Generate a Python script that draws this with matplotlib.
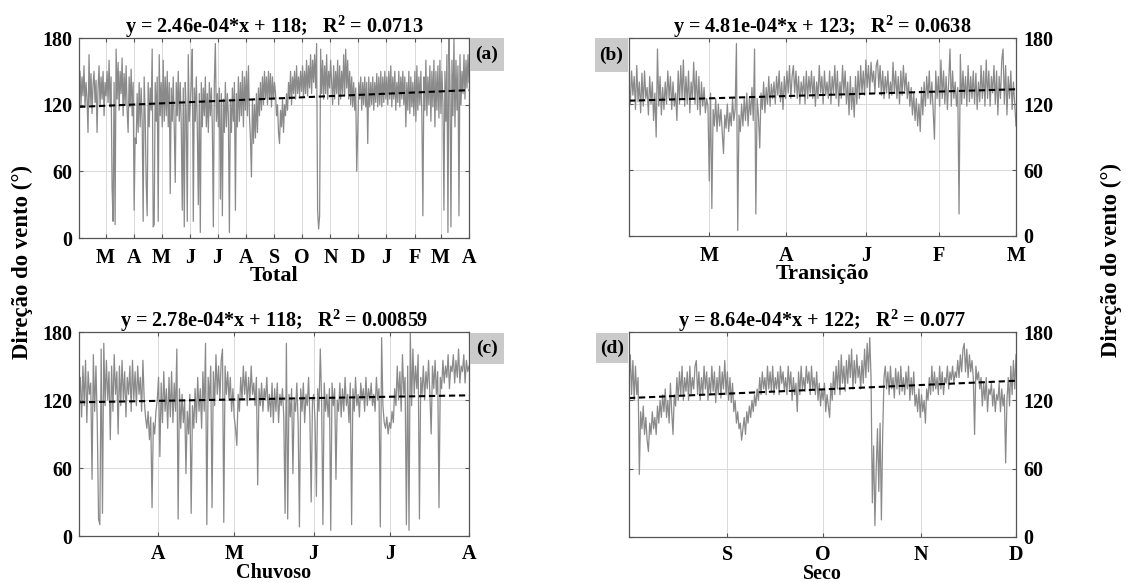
import numpy as np
import pandas as pd
import matplotlib
matplotlib.use("Agg")
import matplotlib.pyplot as plt
from matplotlib.patches import Rectangle

plt.rcParams["font.family"] = ["Liberation Serif", "DejaVu Serif"]
plt.rcParams["font.weight"] = "bold"
plt.rcParams["mathtext.fontset"] = "custom"
plt.rcParams["mathtext.rm"] = "Liberation Serif:bold"
plt.rcParams["mathtext.it"] = "Liberation Serif:bold"
plt.rcParams["mathtext.bf"] = "Liberation Serif:bold"

# Direção do vento (graus) (amostras igualmente espaçadas)
total = [135, 150, 120, 145, 128, 155, 118, 140, 125, 95, 165, 120, 148, 112, 138, 150, 122, 142, 95, 135,
         155, 118, 145, 125, 150, 110, 140, 128,
         150, 122, 160, 118, 145, 45, 15, 140, 12, 170, 125, 158, 115, 150, 130, 162, 110, 148, 120, 155,
         115, 95, 145, 118, 152, 110, 140,
         25, 90, 85, 130, 95, 140, 100, 135, 105, 15, 145, 110, 50, 20, 140, 100, 135, 115, 170, 10,
         12, 140, 105, 145, 15, 165, 110, 140, 100,
         160, 105, 145, 110, 150, 100, 140, 40, 135, 105, 145, 100, 50, 140, 110, 150, 105, 140, 100, 25,
         135, 10, 140, 110, 15, 165, 105,
         120, 140, 170, 15, 135, 105, 145, 100, 30, 130, 5, 140, 100, 135, 110, 145, 100, 130, 95, 140,
         110, 135, 100, 10, 140, 175, 105, 130, 100,
         135, 35, 130, 20, 125, 95, 140, 100, 130, 110, 5, 125, 95, 135, 105, 140, 25, 130, 100, 145,
         105, 140, 110, 150, 100, 145, 115, 150, 110,
         155, 110, 90, 55, 125, 85, 120, 90, 130, 95, 135, 110, 140, 115, 145, 120, 150, 125, 145, 120,
         150, 125, 148, 118, 145, 125, 140,
         130, 110, 120, 95, 85, 115, 100, 125, 95, 120, 110, 130, 115, 140, 125, 150, 120, 145, 130, 150,
         125, 155, 130, 145, 128, 150, 132, 155, 128,
         150, 130, 160, 128, 155, 135, 165, 130, 160, 140, 165, 135, 175, 25, 8, 20, 170, 130, 160, 125,
         155, 130, 165, 125, 150, 135, 160,
         140, 120, 155, 125, 150, 130, 160, 120, 155, 125, 150, 130, 165, 128, 170, 135, 160, 125, 150, 120,
         145, 118, 140, 115, 135, 60, 95, 140,
         125, 145, 115, 140, 120, 145, 118, 140, 85, 145, 118, 140, 120, 145, 115, 140, 122, 148, 118, 145,
         120, 150, 118, 145, 122, 150, 125, 145,
         120, 150, 125, 155, 118, 145, 125, 150, 115, 140, 122, 150, 118, 145, 125, 150, 120, 145, 100, 140,
         115, 150, 112, 145, 118, 140, 110,
         150, 105, 155, 115, 145, 120, 150, 110, 20, 145, 115, 160, 110, 145, 120, 155, 105, 150, 118, 160,
         100, 150, 115, 155, 108, 160, 112, 150,
         120, 25, 150, 105, 165, 5, 180, 140, 10, 160, 110, 180, 100, 160, 115, 155, 20, 165, 120, 150,
         130, 165, 125, 160, 135, 165, 140]

transicao = [140, 120, 150, 128, 145, 115, 155, 122, 140, 112, 148, 118, 150, 125, 135, 110, 145, 120, 140, 105,
             130, 90, 170, 118, 145, 110, 135, 115, 140, 120, 150, 125, 145, 115, 140, 118, 130, 105, 150, 120,
             155, 125, 160, 118, 145, 120, 150, 112, 140, 125, 158, 120, 150, 115, 145, 110, 140, 118, 135, 112,
             125, 118, 50, 130, 25, 115, 100, 125, 95, 120, 100, 115, 95, 75, 110, 98, 120, 95, 112, 100,
             125, 105, 115, 175, 5, 110, 95, 120, 100, 125, 105, 130, 100, 125, 110, 135, 105, 170, 20, 125,
             110, 80, 130, 115, 140, 112, 135, 120, 145, 118, 138, 125, 140, 120, 145, 128, 150, 122, 140, 115,
             145, 125, 150, 130, 155, 125, 145, 155, 130, 150, 125, 145, 120, 140, 128, 145, 120, 150, 125, 145,
             130, 150, 125, 145, 118, 140, 125, 155, 130, 145, 120, 150, 128, 140, 125, 150, 120, 145, 130, 155,
             125, 150, 118, 140, 125, 155, 130, 150, 120, 140, 110, 145, 115, 135, 108, 145, 120, 150, 125, 155,
             130, 150, 128, 160, 135, 155, 130, 158, 140, 150, 130, 155, 160, 135, 155, 128, 150, 125, 145, 130,
             150, 125, 140, 128, 158, 130, 150, 125, 145, 120, 150, 128, 155, 132, 148, 125, 140, 118, 135, 110,
             130, 105, 125, 100, 120, 95, 135, 110, 140, 118, 145, 125, 150, 120, 140, 115, 88, 150, 125, 145,
             118, 160, 125, 150, 120, 145, 115, 140, 170, 118, 150, 125, 140, 118, 135, 20, 165, 120, 150, 125,
             145, 118, 155, 122, 145, 125, 150, 120, 148, 115, 140, 122, 155, 125, 150, 118, 160, 125, 150, 118,
             145, 130, 155, 120, 150, 110, 145, 125, 160, 170, 120, 155, 110, 145, 125, 150, 115, 140, 120, 100]

chuvoso = [120, 140, 105, 150, 115, 155, 100, 145, 125, 135, 50, 160, 110, 150, 100, 15, 10, 165, 20, 170,
           115, 155, 120, 145, 85, 150, 110, 160, 125, 145, 90, 150, 115, 155, 120, 145, 105, 140, 125, 150,
           110, 155, 120, 145, 115, 150, 125, 140, 110, 155, 120, 105, 95, 110, 85, 105, 25, 100, 90, 110,
           120, 140, 70, 135, 100, 145, 110, 130, 95, 140, 105, 145, 100, 135, 110, 165, 15, 130, 95, 125,
           100, 120, 55, 110, 90, 125, 20, 115, 95, 130, 100, 140, 110, 130, 95, 145, 110, 170, 10, 140,
           120, 150, 25, 145, 115, 160, 125, 150, 120, 155, 165, 12, 150, 125, 145, 120, 140, 110, 130, 105,
           95, 80, 125, 110, 140, 120, 150, 125, 145, 115, 140, 120, 150, 125, 135, 115, 140, 45, 130, 115,
           135, 110, 130, 120, 140, 110, 125, 105, 135, 100, 130, 110, 135, 100, 125, 115, 130, 105, 20, 170,
           15, 125, 105, 130, 55, 120, 110, 135, 100, 8, 130, 110, 135, 100, 125, 115, 140, 105, 30, 120,
           125, 100, 35, 130, 110, 165, 120, 10, 135, 110, 125, 105, 130, 5, 135, 115, 130, 50, 120, 110,
           135, 105, 130, 110, 140, 115, 125, 100, 135, 10, 130, 110, 140, 115, 125, 105, 135, 120, 130, 110,
           140, 115, 130, 120, 135, 115, 125, 110, 140, 120, 130, 8, 175, 115, 100, 95, 105, 90, 100, 95,
           110, 100, 130, 115, 150, 120, 145, 110, 160, 125, 140, 10, 150, 5, 180, 115, 165, 125, 150, 130,
           160, 15, 140, 125, 150, 120, 145, 130, 155, 125, 90, 150, 130, 155, 125, 145, 25, 140, 130, 155,
           135, 150, 140, 160, 130, 150, 145, 160, 135, 155, 140, 165, 135, 150, 145, 160, 135, 155, 145, 150]

seco = [135, 160, 125, 155, 120, 150, 125, 140, 55, 110, 95, 115, 90, 105, 85, 75, 100, 90, 110, 95,
        105, 90, 115, 100, 120, 105, 125, 110, 130, 105, 120, 100, 135, 110, 90, 125, 115, 140, 120, 145,
        125, 150, 120, 140, 128, 145, 120, 150, 125, 140, 130, 150, 155, 125, 145, 120, 140, 125, 150, 130,
        145, 120, 140, 125, 150, 128, 145, 118, 140, 125, 150, 122, 145, 130, 155, 125, 145, 120, 140, 118,
        135, 110, 120, 100, 110, 95, 100, 85, 95, 105, 90, 110, 100, 115, 105, 120, 110, 125, 115, 130,
        120, 140, 125, 145, 130, 140, 125, 150, 130, 145, 128, 150, 125, 140, 130, 145, 125, 150, 135, 145,
        128, 140, 125, 150, 130, 145, 120, 140, 125, 135, 110, 145, 125, 150, 130, 140, 128, 150, 135, 145,
        125, 150, 130, 140, 125, 145, 120, 135, 115, 130, 120, 135, 110, 125, 115, 105, 135, 120, 145, 125,
        150, 130, 155, 125, 160, 135, 150, 128, 155, 135, 160, 140, 165, 130, 155, 135, 160, 140, 150, 130,
        155, 135, 165, 140, 170, 145, 175, 140, 30, 80, 10, 60, 95, 40, 100, 15, 90, 140, 150, 130,
        145, 125, 150, 130, 140, 122, 148, 130, 145, 125, 150, 128, 140, 125, 145, 130, 150, 120, 140, 125,
        145, 115, 125, 110, 130, 105, 125, 110, 120, 100, 130, 120, 140, 125, 150, 128, 145, 130, 140, 125,
        150, 130, 145, 125, 140, 135, 150, 130, 145, 138, 150, 135, 145, 140, 155, 140, 160, 145, 165, 170,
        145, 165, 140, 160, 145, 155, 140, 90, 150, 138, 145, 130, 140, 115, 135, 120, 140, 110, 130, 125,
        135, 115, 130, 110, 125, 120, 135, 110, 130, 115, 125, 65, 120, 140, 115, 150, 125, 155, 130, 160]

# ajuste linear: (inclinação por amostra de 10 min, intercepto, R2)
eq_total = (2.46e-4, 118, "0.0713")
eq_transicao = (4.81e-4, 123, "0.0638")
eq_chuvoso = (2.78e-4, 118, "0.00859")
eq_seco = (8.64e-4, 122, "0.077")

meses_total = pd.date_range("2016-02-01", "2017-04-01", freq="MS")
meses_chuvoso = pd.date_range("2016-03-01", "2016-08-01", freq="MS")
meses_seco = pd.date_range("2016-08-01", "2016-12-01", freq="MS")
letras = {1: "J", 2: "F", 3: "M", 4: "A", 5: "M", 6: "J", 7: "J", 8: "A", 9: "S", 10: "O", 11: "N", 12: "D"}

dias_transicao = [31, 61, 92, 120, 150]
rotulos_transicao = ["M", "A", "J", "F", "M"]

W, H = 1126, 583
cinza = "#8a8a8a"


def painel(rect, valores, dias, ticks, rotulos, eq, nome, direita=False, embaixo=False):
    ax = fig.add_axes(rect)
    x = np.linspace(0, dias, len(valores))
    ax.plot(x, valores, color=cinza, lw=0.9)
    t = np.array([0, dias])
    ax.plot(t, eq[0] * t * 144 + eq[1], color="k", ls="--", lw=1.5, dashes=(3, 1.8))
    ax.set_xlim(0, dias)
    ax.set_ylim(0, 180)
    ax.set_yticks([0, 60, 120, 180])
    ax.set_xticks(ticks)
    ax.set_xticklabels(rotulos)
    ax.grid(True, color="#d9d9d9", lw=0.7)
    ax.set_axisbelow(True)
    ax.tick_params(direction="in", length=3, labelsize=14.5, pad=5, top=True, right=True, color="#555555")
    ax.tick_params(axis="x", pad=6 if embaixo else 7)
    for s in ax.spines.values():
        s.set_color("#555555")
        s.set_linewidth(0.9)
    if direita:
        ax.yaxis.tick_right()
        ax.tick_params(axis="y", left=True)
    if embaixo:
        ax.set_xlabel(nome, fontsize=14.5, fontweight="bold", labelpad=-1)
    else:
        ax.set_xlabel(nome, fontsize=16, fontweight="bold", labelpad=-1)
    ax.set_title("y = %.2e*x + %d;   R$^{2}$ = %s" % (eq[0], eq[1], eq[2]),
                 fontsize=14.6, fontweight="bold", pad=4)
    return ax


def caixa(x0, y0, x1, y1, texto):
    fig.add_artist(Rectangle((x0 / W, 1 - y1 / H), (x1 - x0) / W, (y1 - y0) / H,
                             transform=fig.transFigure, fc="#cacaca", ec="none"))
    fig.text((x0 + x1) / 2 / W, 1 - (y0 + y1) / 2 / H, texto, ha="center", va="center",
             fontsize=14, fontweight="bold")


fig = plt.figure(figsize=(11.26, 5.83), dpi=100)

d_total = (meses_total - meses_total[0]).days
painel([79 / W, 1 - 238 / H, 390 / W, 200 / H], total, d_total[-1], d_total[1:],
       [letras[m.month] for m in meses_total[1:]], eq_total, "Total")

painel([629 / W, 1 - 236 / H, 387 / W, 198 / H], transicao, dias_transicao[-1], dias_transicao,
       rotulos_transicao, eq_transicao, "Transição", direita=True)

d_chuvoso = (meses_chuvoso - meses_chuvoso[0]).days
painel([79 / W, 1 - 536 / H, 390 / W, 204 / H], chuvoso, d_chuvoso[-1], d_chuvoso[1:],
       [letras[m.month] for m in meses_chuvoso[1:]], eq_chuvoso, "Chuvoso", embaixo=True)

d_seco = (meses_seco - meses_seco[0]).days
painel([629 / W, 1 - 537 / H, 387 / W, 205 / H], seco, d_seco[-1], d_seco[1:],
       [letras[m.month] for m in meses_seco[1:]], eq_seco, "Seco", direita=True, embaixo=True)

caixa(470, 38, 504, 71, "(a)")
caixa(595, 38, 628, 72, "(b)")
caixa(470, 333, 504, 364, "(c)")
caixa(596, 333, 628, 363, "(d)")

fig.text(22 / W, 1 - 262 / H, "Direção do vento (°)", rotation=90, ha="center", va="center",
         fontsize=16.4, fontweight="bold")
fig.text(1111 / W, 1 - 260 / H, "Direção do vento (°)", rotation=90, ha="center", va="center",
         fontsize=16.4, fontweight="bold")

fig.savefig("out.png", dpi=100)
